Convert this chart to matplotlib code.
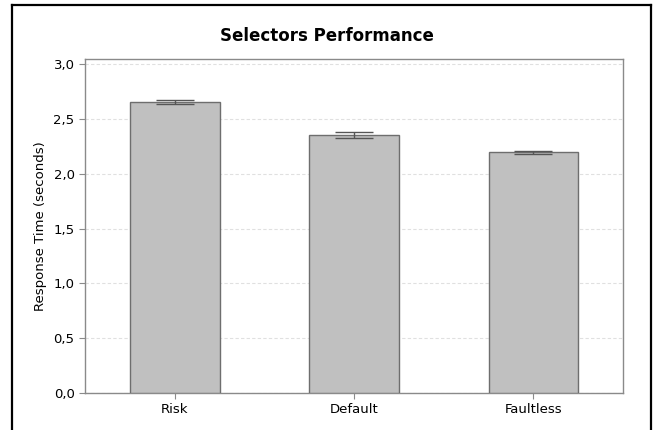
import matplotlib
matplotlib.use("Agg")
import matplotlib.pyplot as plt
from matplotlib.lines import Line2D
from matplotlib.ticker import FuncFormatter

selectors = ["Risk", "Default", "Faultless"]
response_time = [2.651, 2.355, 2.195]
error = [0.018, 0.026, 0.012]
yticks = [0.0, 0.5, 1.0, 1.5, 2.0, 2.5, 3.0]

plt.rcParams['font.family'] = ['DejaVu Sans']

W, H = 653, 430
fig = plt.figure(figsize=(W / 100, H / 100), dpi=100)

# axes box in pixel terms: left 85, right 623, top 59, bottom 393
ax = fig.add_axes([85 / W, 1 - 393 / H, (623 - 85) / W, (393 - 59) / H])

pos = range(len(selectors))
ax.bar(pos, response_time, width=0.5, color="#c0c0c0", edgecolor="#6e6e6e",
       linewidth=1.0, zorder=3)
ax.errorbar(pos, response_time, yerr=error, fmt="none", ecolor="#555555",
            elinewidth=1.0, capsize=14, capthick=1.0, zorder=4)

ax.set_xlim(-0.5, 2.5)
ax.set_ylim(0, 3.046)
ax.set_yticks(yticks)
ax.yaxis.set_major_formatter(FuncFormatter(lambda v, _: f"{v:.1f}".replace(".", ",")))
ax.set_xticks(list(pos))
ax.set_xticklabels(selectors)

ax.grid(axis="y", color="#e0e0e0", linestyle=(0, (3, 2)), linewidth=0.8, zorder=0)
for s in ax.spines.values():
    s.set_color("#8a8a8a")
    s.set_linewidth(1.0)
ax.tick_params(axis="both", colors="#8a8a8a", labelcolor="black", length=4,
               labelsize=9.5, width=0.8)
ax.tick_params(axis="x", pad=3)

ax.set_ylabel("Response Time (seconds)", fontsize=9.5, labelpad=5)
fig.text(0.5, 1 - 36 / H, "Selectors Performance", ha="center", va="center",
         fontsize=12, fontweight="bold")

# outer frame: left, top and right edges
frame_kw = dict(color="black", linewidth=1.6, transform=fig.transFigure)
fig.add_artist(Line2D([12 / W, 12 / W], [0, 1 - 5 / H], **frame_kw))
fig.add_artist(Line2D([12 / W, 651 / W], [1 - 5 / H, 1 - 5 / H], **frame_kw))
fig.add_artist(Line2D([651 / W, 651 / W], [0, 1 - 5 / H], **frame_kw))

fig.savefig("out.png", dpi=100)
